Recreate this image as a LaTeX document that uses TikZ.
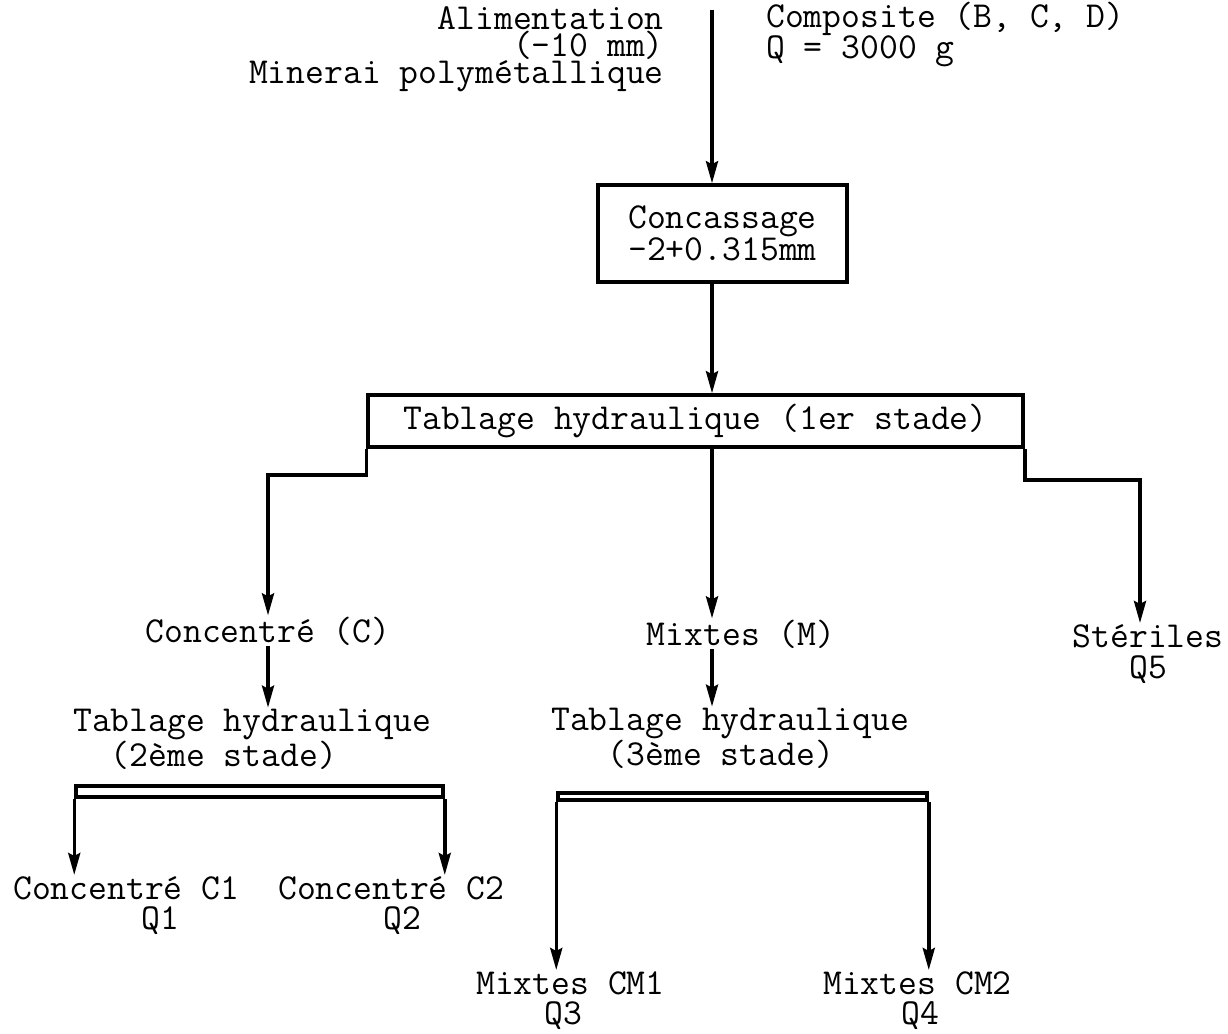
\documentclass[tikz,border=0pt]{standalone}
\usepackage{fontspec}
\usetikzlibrary{arrows.meta}
\newcommand{\fsz}[1]{\ttfamily\fontsize{36.6}{#1}\selectfont}
\begin{document}
\begin{tikzpicture}[x=1pt,y=-1pt,
  arr/.style={line width=3.5pt,-{Stealth[length=22pt,width=12pt,inset=3pt]}},
  box/.style={draw,line width=3.5pt,inner sep=0pt},
  lbl/.style={inner sep=1pt},
  every node/.style={font=\fsz{30}}
]
\useasboundingbox (0,0) rectangle (1228,1033);
\coordinate (top) at (712,10);
% boxes
\node[box,minimum width=249pt,minimum height=97pt,align=center,font=\fsz{28}] (conc) at (722.5,233.5) {Concassage\\-2+0.315mm};
\node[box,minimum width=655pt,minimum height=52pt] (tab1) at (695.5,421) {Tablage hydraulique (1er stade)};
\node[box,minimum width=367pt,minimum height=11pt] (bar2) at (259.5,791.5) {};
\node[box,minimum width=369pt,minimum height=7pt] (bar3) at (742.5,796.5) {};
% labels (base anchor = baseline of the last line)
\node[lbl,anchor=base east,align=right,font=\fsz{25}] (feed) at (665,83) {Alimentation\\(-10 mm)\\Minerai polymétallique};
\node[lbl,anchor=base west,align=left,font=\fsz{25}] (comp) at (765,59) {Composite (B, C, D)\\Q = 3000 g};
\node[lbl,anchor=base] (cC) at (268,642) {Concentré (C)};
\node[lbl,anchor=base] (mM) at (741,645) {Mixtes (M)};
\node[lbl,anchor=base,align=center,font=\fsz{31}] (st) at (1148,678) {Stériles\\Q5};
\node[lbl,anchor=base west,align=left,font=\fsz{31}] (tab2) at (72,766) {Tablage hydraulique\\\phantom{Ta}(2ème stade)};
\node[lbl,anchor=base west,align=left,font=\fsz{31}] (tab3) at (550,765) {Tablage hydraulique\\\phantom{Tab}(3ème stade)};
\node[lbl,anchor=base west,align=left,font=\fsz{30}] (c1) at (12,929) {Concentré C1\\\hspace*{128pt}Q1};
\node[lbl,anchor=base west,align=left,font=\fsz{30}] (c2) at (277,929) {Concentré C2\\\hspace*{105pt}Q2};
\node[lbl,anchor=base west,align=left,font=\fsz{30}] (cm1) at (475,1024) {Mixtes CM1\\\hspace*{68pt}Q3};
\node[lbl,anchor=base west,align=left,font=\fsz{30}] (cm2) at (822,1024) {Mixtes CM2\\\hspace*{78pt}Q4};
% connectors
\draw[arr] (top) -- (conc.north -| top);
\draw[arr] (conc.south -| top) -- (tab1.north -| top);
\draw[arr] (tab1.south west) -- ++(0,26) -| (cC.north);
\draw[arr] (tab1.south -| top) -- (mM.north -| top);
\draw[arr] (tab1.south east) -- ++(0,31) -| ([xshift=-8pt]st.north);
\draw[arr] (cC.south) -- (cC.south |- tab2.north);
\draw[arr] (mM.south -| top) -- (tab3.north -| top);
\draw[arr] (bar2.south west) -- (bar2.south west |- c1.north);
\draw[arr] (bar2.south east) -- (bar2.south east |- c2.north);
\draw[arr] (bar3.south west) -- (bar3.south west |- cm1.north);
\draw[arr] (bar3.south east) -- (bar3.south east |- cm2.north);
\end{tikzpicture}
\end{document}
